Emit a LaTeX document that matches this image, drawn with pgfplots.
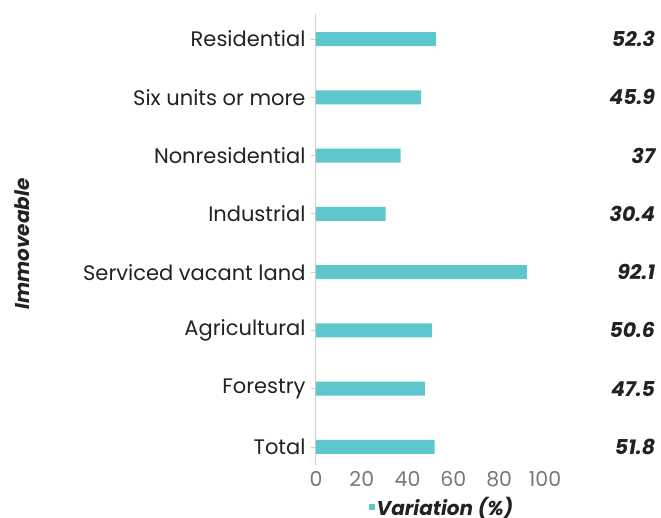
\documentclass[border=0pt]{standalone}
\usepackage{pgfplots}
\pgfplotsset{compat=1.18}
\usepackage{pgfplotstable}
\usepackage{fontspec}
\setmainfont{Poppins}
\definecolor{barteal}{HTML}{5EC7CD}
\definecolor{axisgray}{HTML}{CFCFCF}
\definecolor{tickgray}{HTML}{777777}
\definecolor{labelblack}{HTML}{222222}

% idx 0 = bottom (Total), idx 7 = top (Residential)
\pgfplotstableread{
idx val
0 51.8
1 47.5
2 50.6
3 92.1
4 30.4
5 37
6 45.9
7 52.3
}\variation

\begin{document}
\begin{tikzpicture}[x=1pt,y=1pt]
\useasboundingbox (0,0) rectangle (661,518);
\begin{axis}[
    at={(316pt,53pt)}, anchor=south west,
    scale only axis,
    width=229pt, height=451pt,
    xmin=0, xmax=100,
    ymin=-0.31, ymax=7.43,
    clip=false,
    axis lines*=left,
    axis line style={-},
    x axis line style={draw=none},
    y axis line style={axisgray, line width=1pt},
    xtick={0,20,40,60,80,100},
    ytick={0,1,2,3,4,5,6,7},
    yticklabels={Total,Forestry,Agricultural,Serviced vacant land,Industrial,Nonresidential,Six units or more,Residential},
    tick align=outside,
    major tick length=5pt,
    xtick style={draw=none},
    ytick style={axisgray, line width=0.8pt},
    /pgf/number format/assume math mode=true,
    xticklabel style={text=tickgray, font=\fontsize{20.5}{24}\selectfont, yshift=2pt},
    yticklabel style={text=labelblack, font=\fontsize{21}{25}\selectfont, xshift=-2pt},
    ylabel={\bfseries\itshape Immoveable},
    ylabel style={at={(axis description cs:-1.284,0.49)}, anchor=center, font=\fontsize{20}{24}\selectfont, text=labelblack},
    legend style={at={(0.55,0)}, anchor=north, yshift=-28pt, draw=none, fill=none,
        font=\fontsize{20}{24}\selectfont\bfseries\itshape, text=labelblack},
    legend image code/.code={\fill[barteal] (0pt,-3pt) rectangle (6pt,3pt);},
]
\addplot[xbar, bar width=14pt, fill=barteal, draw=none] table[x=val, y=idx] {\variation};
\addlegendentry{Variation (\%)}
\addplot[draw=none, forget plot, nodes near coords, point meta=explicit,
    nodes near coords style={anchor=east, text=labelblack,
        font=\fontsize{20.5}{24}\selectfont\bfseries\itshape}]
    table[x expr=149.6, y=idx, meta=val] {\variation};
\end{axis}
\end{tikzpicture}
\end{document}
